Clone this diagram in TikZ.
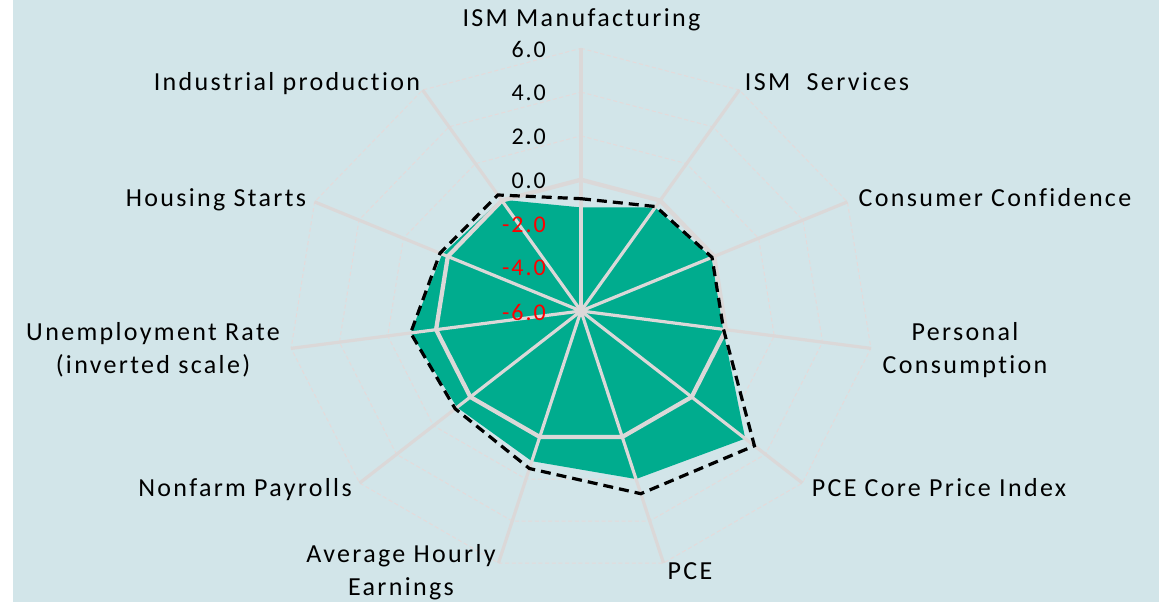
\documentclass[tikz,border=0pt]{standalone}
\usepackage{fontspec}
\setmainfont{Carlito}
\newfontfamily\labelfont[LetterSpace=9,Ligatures=NoCommon]{Carlito}
\newfontfamily\tickfont[LetterSpace=8,Ligatures=NoCommon]{Carlito}

\definecolor{chartbg}{RGB}{210,229,233}
\definecolor{spokegray}{RGB}{219,216,216}
\definecolor{ringgray}{RGB}{229,218,218}
\definecolor{areagreen}{RGB}{0,172,142}
\definecolor{tickred}{RGB}{255,0,0}

\tikzset{
  axislabel/.style={font={\labelfont\fontsize{19.5}{24.75}\selectfont},
    anchor=base, align=center, inner sep=0pt},
  ticklabel/.style={font={\tickfont\fontsize{18}{22}\selectfont},
    anchor=east, inner sep=0pt},
  spoke/.style={draw=spokegray, line width=2.4pt},
  gridring/.style={draw=ringgray, line width=0.75pt, dash pattern=on 3pt off 2pt},
  zeroring/.style={draw=spokegray, line width=3.2pt, line join=round},
  areafill/.style={fill=areagreen},
  prevline/.style={draw=black, line width=2.4pt, dash pattern=on 7.5pt off 4.5pt},
}

\begin{document}
\begin{tikzpicture}[x=0.75pt,y=0.75pt]

  \useasboundingbox (-581,-291) rectangle (580,311);
  \fill[chartbg] (-568,-291) rectangle (578,311);

  \begin{scope}[xscale=1.115]
    % dashed grid rings
    \foreach \v in {-4,-2,2,4,6}
      \draw[gridring] (90:{(\v+6)*21.89})
        \foreach \k in {1,...,10} { -- ({90-\k*360/11}:{(\v+6)*21.89}) } -- cycle;

    % current and previous readings
    \foreach \v [count=\k from 0] in {-1.27,-0.38,-0.12,-0.12,2.9,2.0,1.15,0.72,1.05,0.25,0.05}
      \coordinate (cur\k) at ({90-\k*360/11}:{(\v+6)*21.89});
    \foreach \v [count=\k from 0] in {-0.87,-0.33,-0.1,-0.1,3.4,2.7,1.5,0.82,1.05,0.35,0.3}
      \coordinate (prev\k) at ({90-\k*360/11}:{(\v+6)*21.89});

    \fill[areafill] (cur0) \foreach \k in {1,...,10} { -- (cur\k) } -- cycle;

    % spokes and the zero ring
    \foreach \k in {0,...,10}
      \draw[spoke] (0,0) -- ({90-\k*360/11}:262.7);
    \draw[zeroring] (90:131.3)
      \foreach \k in {1,...,10} { -- ({90-\k*360/11}:131.3) } -- cycle;

    \draw[prevline] (prev0) \foreach \k in {1,...,10} { -- (prev\k) } -- cycle;
  \end{scope}

  % scale
  \foreach \v/\c in {6/black,4/black,2/black,0/black,-2/tickred,-4/tickred,-6/tickred}
    \node[ticklabel, text=\c] (tick\v) at (-35,{(\v+6)*21.89-1}) {\v.0};

  % axis names
  \node[axislabel] (ismman) at (0.5,284) {ISM Manufacturing};
  \node[axislabel] (ismserv) at (246,220) {ISM\ \ Services};
  \node[axislabel] (confid) at (414,104) {Consumer Confidence};
  \node[axislabel] (consum) at (384,-63) {Personal\\Consumption};
  \node[axislabel] (pcecore) at (358,-186) {PCE Core Price Index};
  \node[axislabel] (pce) at (109,-269) {PCE};
  \node[axislabel] (earn) at (-180,-285) {Average Hourly\\Earnings};
  \node[axislabel] (payroll) at (-336,-186) {Nonfarm Payrolls};
  \node[axislabel] (unemp) at (-428,-63) {Unemployment Rate\\(inverted scale)};
  \node[axislabel] (housing) at (-365,104) {Housing Starts};
  \node[axislabel] (indprod) at (-294,220) {Industrial production};

\end{tikzpicture}
\end{document}
